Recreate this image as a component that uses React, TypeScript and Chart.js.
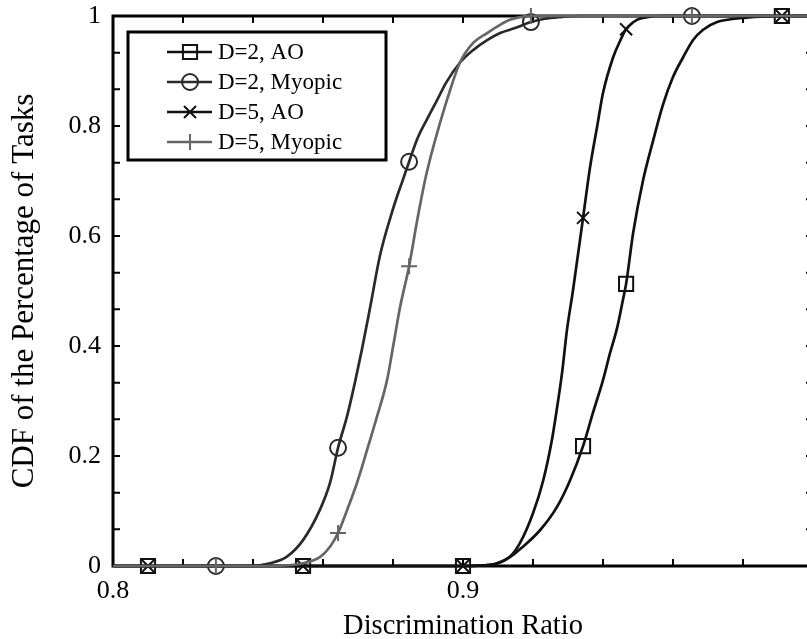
import React, { useEffect, useRef } from 'react';
import { Chart, registerables } from 'chart.js';
import { drawPoint } from 'chart.js/helpers';

Chart.register(...registerables);

// ---------------- data ----------------
const SERIES_LABELS = ['D=2, AO', 'D=2, Myopic', 'D=5, AO', 'D=5, Myopic'];

const D2_AO_X = [0.8, 0.81, 0.8543, 0.9, 0.9077, 0.9134, 0.9171, 0.922, 0.9269, 0.9306, 0.9343, 0.9371, 0.94, 0.942, 0.944, 0.9457, 0.9466, 0.9486, 0.9514, 0.9543, 0.9571, 0.96, 0.9629, 0.9657, 0.9686, 0.9726, 0.9791, 0.9849, 0.9911, 1.0];
const D2_AO_Y = [0, 0, 0, 0, 0.002, 0.016, 0.035, 0.065, 0.108, 0.156, 0.218, 0.278, 0.338, 0.387, 0.432, 0.484, 0.513, 0.605, 0.70, 0.773, 0.838, 0.889, 0.925, 0.956, 0.975, 0.989, 0.996, 0.999, 1, 1];

const D2_MY_X = [0.8, 0.8294, 0.8391, 0.8449, 0.8497, 0.8543, 0.8591, 0.862, 0.8643, 0.8669, 0.8691, 0.8711, 0.8734, 0.8763, 0.8797, 0.8811, 0.8826, 0.8846, 0.8869, 0.8897, 0.8926, 0.8951, 0.8991, 0.9029, 0.9069, 0.9106, 0.9149, 0.9194, 0.9234, 0.9277, 0.9334, 0.9654, 1.0];
const D2_MY_Y = [0, 0, 0, 0.005, 0.017, 0.047, 0.102, 0.151, 0.215, 0.273, 0.333, 0.393, 0.468, 0.565, 0.643, 0.671, 0.698, 0.735, 0.776, 0.812, 0.847, 0.878, 0.915, 0.938, 0.956, 0.969, 0.978, 0.989, 0.995, 0.998, 1, 1, 1];

const D5_AO_X = [0.8, 0.81, 0.8543, 0.9, 0.9077, 0.9134, 0.9163, 0.92, 0.9229, 0.9254, 0.9269, 0.9283, 0.9297, 0.9314, 0.9343, 0.9363, 0.9383, 0.94, 0.9429, 0.9449, 0.9466, 0.9497, 0.9526, 0.9563, 0.9911, 1.0];
const D5_AO_Y = [0, 0, 0, 0, 0.002, 0.017, 0.042, 0.096, 0.155, 0.229, 0.289, 0.351, 0.429, 0.5, 0.633, 0.725, 0.798, 0.86, 0.925, 0.955, 0.976, 0.993, 0.998, 1, 1, 1];

const D5_MY_X = [0.8, 0.8294, 0.8449, 0.8543, 0.8591, 0.862, 0.8643, 0.8669, 0.8697, 0.8726, 0.8754, 0.8783, 0.88, 0.882, 0.8846, 0.8869, 0.8891, 0.8906, 0.8926, 0.8943, 0.8954, 0.8991, 0.9029, 0.9069, 0.9106, 0.9134, 0.9163, 0.9194, 0.9654, 1.0];
const D5_MY_Y = [0, 0, 0, 0.005, 0.016, 0.035, 0.06, 0.102, 0.151, 0.211, 0.271, 0.338, 0.398, 0.47, 0.545, 0.628, 0.70, 0.74, 0.787, 0.824, 0.847, 0.915, 0.951, 0.969, 0.984, 0.993, 0.998, 1, 1, 1];

// x positions where markers are shown
const AO_MARKS = [0.81, 0.8543, 0.9, 0.9343, 0.9466, 0.9911];
const MY_MARKS = [0.8294, 0.8643, 0.8846, 0.9194, 0.9654];

const X_TICKS = [0.8, 0.9, 1.0];
const X_TICK_LABELS = ['0.8', '0.9', ''];
const Y_TICKS = [0, 0.2, 0.4, 0.6, 0.8, 1];
const Y_TICK_LABELS = ['0', '0.2', '0.4', '0.6', '0.8', '1'];
const X_MINOR = [0.8, 0.82, 0.84, 0.86, 0.88, 0.9, 0.92, 0.94, 0.96, 0.98, 1.0];
const Y_MINOR = [0, 0.0667, 0.1333, 0.2, 0.2667, 0.3333, 0.4, 0.4667, 0.5333, 0.6, 0.6667, 0.7333, 0.8, 0.8667, 0.9333, 1];

const X_TITLE = 'Discrimination Ratio';
const Y_TITLE = 'CDF of the Percentage of Tasks';

const FONT = '"Liberation Serif", "Times New Roman", serif';
const TICK_LEN = 7;

const pts = (xs: number[], ys: number[]) => xs.map((x, i) => ({ x, y: ys[i] }));

const framePlugin = {
  id: 'frame',
  beforeDatasetsDraw(chart: any) {
    const { ctx, chartArea: a, scales } = chart;
    const xs = scales.x, ys = scales.y;
    ctx.save();
    ctx.strokeStyle = '#000';
    ctx.lineWidth = 2;
    ctx.beginPath();
    X_MINOR.forEach((v) => {
      const px = xs.getPixelForValue(v);
      ctx.moveTo(px, a.bottom); ctx.lineTo(px, a.bottom - TICK_LEN);
      ctx.moveTo(px, a.top); ctx.lineTo(px, a.top + TICK_LEN);
    });
    Y_MINOR.forEach((v) => {
      const py = ys.getPixelForValue(v);
      ctx.moveTo(a.left, py); ctx.lineTo(a.left + TICK_LEN, py);
      ctx.moveTo(a.right, py); ctx.lineTo(a.right - TICK_LEN, py);
    });
    ctx.stroke();
    ctx.lineWidth = 3;
    ctx.strokeRect(a.left, a.top, a.right - a.left, a.bottom - a.top);
    ctx.restore();
  },
};

const legendPlugin = {
  id: 'boxLegend',
  afterDraw(chart: any) {
    const { ctx, chartArea: a } = chart;
    const bx = a.left + 15, by = a.top + 16, bw = 258, bh = 128;
    ctx.save();
    ctx.fillStyle = '#fff';
    ctx.fillRect(bx, by, bw, bh);
    ctx.lineWidth = 3;
    ctx.strokeStyle = '#000';
    ctx.strokeRect(bx, by, bw, bh);
    chart.data.datasets.forEach((ds: any, i: number) => {
      const cy = by + 20 + i * 30;
      ctx.strokeStyle = ds.borderColor;
      ctx.lineWidth = ds.borderWidth;
      ctx.beginPath();
      ctx.moveTo(bx + 39, cy);
      ctx.lineTo(bx + 84, cy);
      ctx.stroke();
      ctx.fillStyle = 'rgba(0,0,0,0)';
      ctx.strokeStyle = ds.borderColor;
      ctx.lineWidth = ds.pointBorderWidth;
      drawPoint(ctx, { pointStyle: ds.pointStyle, rotation: 0, radius: ds.markerRadius, borderWidth: ds.pointBorderWidth }, bx + 62, cy);
      ctx.fillStyle = '#000';
      ctx.font = `23px ${FONT}`;
      ctx.textBaseline = 'middle';
      ctx.textAlign = 'left';
      ctx.fillText(ds.label, bx + 90, cy + 1);
    });
    ctx.restore();
  },
};

function makeDataset(label: string, xs: number[], ys: number[], marks: number[], color: string, style: string, r: number, order: number) {
  return {
    label,
    data: pts(xs, ys),
    borderColor: color,
    borderWidth: 2.7,
    backgroundColor: 'rgba(0,0,0,0)',
    pointBackgroundColor: 'rgba(0,0,0,0)',
    pointBorderColor: color,
    pointBorderWidth: 2,
    pointStyle: style,
    markerRadius: r,
    pointRadius: (c: any) => (c.raw && marks.some((m) => Math.abs(m - c.raw.x) < 1e-9) ? r : 0),
    pointHoverRadius: 0,
    cubicInterpolationMode: 'monotone',
    clip: false,
    order,
  };
}

export default function App() {
  const ref = useRef<HTMLCanvasElement | null>(null);
  useEffect(() => {
    if (!ref.current) return;
    const chart = new Chart(ref.current, {
      type: 'line',
      data: {
        datasets: [
          makeDataset(SERIES_LABELS[0], D2_AO_X, D2_AO_Y, AO_MARKS, '#111111', 'rect', 10, 3),
          makeDataset(SERIES_LABELS[1], D2_MY_X, D2_MY_Y, MY_MARKS, '#2a2a2a', 'circle', 8, 2),
          makeDataset(SERIES_LABELS[2], D5_AO_X, D5_AO_Y, AO_MARKS, '#111111', 'crossRot', 8.5, 1),
          makeDataset(SERIES_LABELS[3], D5_MY_X, D5_MY_Y, MY_MARKS, '#666666', 'cross', 8, 0),
        ] as any,
      },
      options: {
        responsive: false,
        animation: false,
        devicePixelRatio: 1,
        layout: { padding: { left: 0, right: 7, top: 16, bottom: 0 } },
        plugins: { legend: { display: false }, tooltip: { enabled: false } },
        scales: {
          x: {
            type: 'linear',
            min: 0.8,
            max: 1.0,
            grid: { display: false, drawTicks: false },
            border: { display: false },
            afterBuildTicks: (s: any) => { s.ticks = X_TICKS.map((v) => ({ value: v })); },
            afterFit: (s: any) => { s.height = 73; s.paddingLeft = 0; s.paddingRight = 0; },
            ticks: {
              autoSkip: false,
              maxRotation: 0,
              padding: 10,
              color: '#000',
              font: { family: FONT, size: 26 },
              callback: (v: any) => { const i = X_TICKS.findIndex((t) => Math.abs(t - v) < 1e-9); return i >= 0 ? X_TICK_LABELS[i] : ''; },
            },
            title: { display: true, text: X_TITLE, color: '#000', font: { family: FONT, size: 28.5, lineHeight: 0.9 }, padding: { top: 0, bottom: 0 } },
          },
          y: {
            type: 'linear',
            min: 0,
            max: 1,
            grid: { display: false, drawTicks: false },
            border: { display: false },
            afterBuildTicks: (s: any) => { s.ticks = Y_TICKS.map((v) => ({ value: v })); },
            afterFit: (s: any) => { s.width = 113; s.paddingTop = 0; s.paddingBottom = 0; },
            ticks: {
              autoSkip: false,
              padding: 12,
              color: '#000',
              font: { family: FONT, size: 26 },
              callback: (v: any) => { const i = Y_TICKS.findIndex((t) => Math.abs(t - v) < 1e-9); return i >= 0 ? Y_TICK_LABELS[i] : ''; },
            },
            title: { display: true, text: Y_TITLE, color: '#000', font: { family: FONT, size: 31, lineHeight: 1 }, padding: { top: 9, bottom: 0 } },
          },
        },
      } as any,
      plugins: [framePlugin, legendPlugin],
    });
    return () => chart.destroy();
  }, []);
  return (
    <div style={{ position: 'fixed', left: 0, top: 0, width: 807, height: 639, overflow: 'hidden', background: '#fff' }}>
      <canvas ref={ref} width={820} height={639} style={{ display: 'block', width: 820, height: 639 }} />
    </div>
  );
}
